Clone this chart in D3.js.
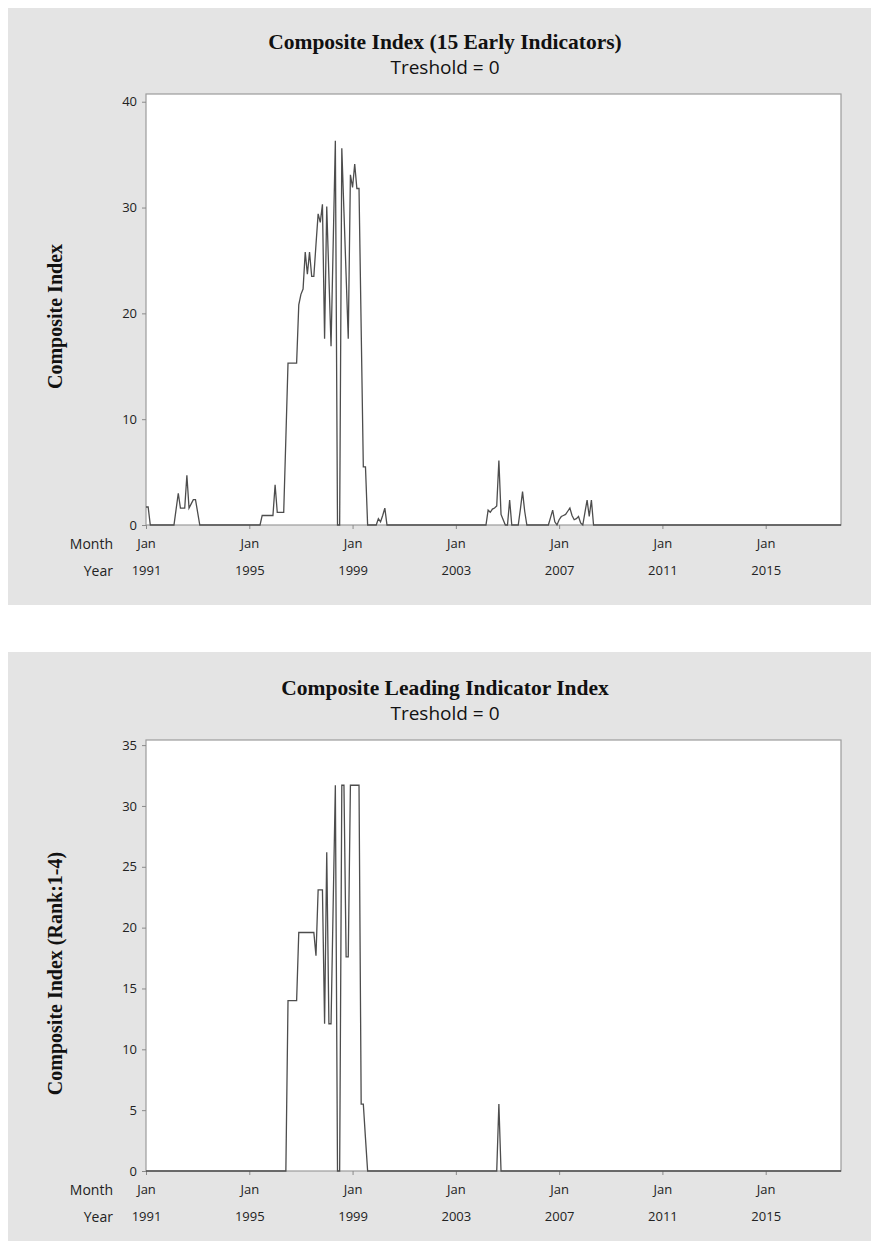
<!DOCTYPE html>
<html>
<head>
<meta charset="utf-8">
<script src="https://cdn.jsdelivr.net/npm/d3@7"></script>
<style>
  html, body { margin: 0; padding: 0; background: #ffffff; }
  svg { display: block; }
  .tick text { font-family: "Open Sans", "Noto Sans", sans-serif; fill: #222; }
</style>
</head>
<body>
<svg id="chart" width="871" height="1244"></svg>
<script>
// Monthly series, Jan 1991 – Dec 2017 (one row per year)
const firstYear = 1991;
const lastYear = 2017;
const yearLabels = [1991, 1995, 1999, 2003, 2007, 2011, 2015];
const monthLabel = "Jan";

// Composite Index (15 Early Indicators)
const earlyIndex = [
  1.7, 1.7, 0, 0, 0, 0, 0, 0, 0, 0, 0, 0,                  // 1991
  0, 0, 1.5, 3.0, 1.6, 1.6, 1.6, 4.7, 1.6, 2.0, 2.4, 2.4,  // 1992
  1.2, 0, 0, 0, 0, 0, 0, 0, 0, 0, 0, 0,                    // 1993
  0, 0, 0, 0, 0, 0, 0, 0, 0, 0, 0, 0,                      // 1994
  0, 0, 0, 0, 0, 0, 0.9, 0.9, 0.9, 0.9, 0.9, 0.9,          // 1995
  3.8, 1.2, 1.2, 1.2, 1.2, 8.2, 15.3, 15.3, 15.3, 15.3, 15.3, 20.8,      // 1996
  21.8, 22.3, 25.8, 23.7, 25.8, 23.5, 23.5, 26.5, 29.4, 28.6, 30.3, 17.6, // 1997
  30.1, 23.5, 16.9, 26.6, 36.3, 0, 0, 35.6, 29.6, 23.6, 17.6, 33.1,       // 1998
  31.9, 34.1, 31.8, 31.8, 18.6, 5.5, 5.5, 0, 0, 0, 0, 0,   // 1999
  0.6, 0.3, 0.9, 1.6, 0, 0, 0, 0, 0, 0, 0, 0,              // 2000
  0, 0, 0, 0, 0, 0, 0, 0, 0, 0, 0, 0,                      // 2001
  0, 0, 0, 0, 0, 0, 0, 0, 0, 0, 0, 0,                      // 2002
  0, 0, 0, 0, 0, 0, 0, 0, 0, 0, 0, 0,                      // 2003
  0, 0, 0, 1.4, 1.2, 1.5, 1.6, 1.8, 6.1, 1.0, 0.5, 0,      // 2004
  0, 2.35, 0, 0, 0, 0, 1.5, 3.15, 1.3, 0, 0, 0,            // 2005
  0, 0, 0, 0, 0, 0, 0, 0, 0.7, 1.4, 0.3, 0,                // 2006
  0.5, 0.8, 0.9, 1.0, 1.3, 1.6, 0.9, 0.5, 0.6, 0.8, 0.2, 0, // 2007
  1.2, 2.35, 0.8, 2.35, 0, 0, 0, 0, 0, 0, 0, 0,            // 2008
  0, 0, 0, 0, 0, 0, 0, 0, 0, 0, 0, 0,                      // 2009
  0, 0, 0, 0, 0, 0, 0, 0, 0, 0, 0, 0,                      // 2010
  0, 0, 0, 0, 0, 0, 0, 0, 0, 0, 0, 0,                      // 2011
  0, 0, 0, 0, 0, 0, 0, 0, 0, 0, 0, 0,                      // 2012
  0, 0, 0, 0, 0, 0, 0, 0, 0, 0, 0, 0,                      // 2013
  0, 0, 0, 0, 0, 0, 0, 0, 0, 0, 0, 0,                      // 2014
  0, 0, 0, 0, 0, 0, 0, 0, 0, 0, 0, 0,                      // 2015
  0, 0, 0, 0, 0, 0, 0, 0, 0, 0, 0, 0,                      // 2016
  0, 0, 0, 0, 0, 0, 0, 0, 0, 0, 0, 0                       // 2017
];

// Composite Leading Indicator Index (Rank: 1-4)
const leadingIndex = [
  0, 0, 0, 0, 0, 0, 0, 0, 0, 0, 0, 0,                      // 1991
  0, 0, 0, 0, 0, 0, 0, 0, 0, 0, 0, 0,                      // 1992
  0, 0, 0, 0, 0, 0, 0, 0, 0, 0, 0, 0,                      // 1993
  0, 0, 0, 0, 0, 0, 0, 0, 0, 0, 0, 0,                      // 1994
  0, 0, 0, 0, 0, 0, 0, 0, 0, 0, 0, 0,                      // 1995
  0, 0, 0, 0, 0, 0, 14.0, 14.0, 14.0, 14.0, 14.0, 19.6,    // 1996
  19.6, 19.6, 19.6, 19.6, 19.6, 19.6, 19.6, 17.7, 23.1, 23.1, 23.1, 12.1, // 1997
  26.2, 12.1, 12.1, 22.0, 31.7, 0, 0, 31.7, 31.7, 17.6, 17.6, 31.7,       // 1998
  31.7, 31.7, 31.7, 31.7, 5.5, 5.5, 2.7, 0, 0, 0, 0, 0,    // 1999
  0, 0, 0, 0, 0, 0, 0, 0, 0, 0, 0, 0,                      // 2000
  0, 0, 0, 0, 0, 0, 0, 0, 0, 0, 0, 0,                      // 2001
  0, 0, 0, 0, 0, 0, 0, 0, 0, 0, 0, 0,                      // 2002
  0, 0, 0, 0, 0, 0, 0, 0, 0, 0, 0, 0,                      // 2003
  0, 0, 0, 0, 0, 0, 0, 0, 5.5, 0, 0, 0,                    // 2004
  0, 0, 0, 0, 0, 0, 0, 0, 0, 0, 0, 0,                      // 2005
  0, 0, 0, 0, 0, 0, 0, 0, 0, 0, 0, 0,                      // 2006
  0, 0, 0, 0, 0, 0, 0, 0, 0, 0, 0, 0,                      // 2007
  0, 0, 0, 0, 0, 0, 0, 0, 0, 0, 0, 0,                      // 2008
  0, 0, 0, 0, 0, 0, 0, 0, 0, 0, 0, 0,                      // 2009
  0, 0, 0, 0, 0, 0, 0, 0, 0, 0, 0, 0,                      // 2010
  0, 0, 0, 0, 0, 0, 0, 0, 0, 0, 0, 0,                      // 2011
  0, 0, 0, 0, 0, 0, 0, 0, 0, 0, 0, 0,                      // 2012
  0, 0, 0, 0, 0, 0, 0, 0, 0, 0, 0, 0,                      // 2013
  0, 0, 0, 0, 0, 0, 0, 0, 0, 0, 0, 0,                      // 2014
  0, 0, 0, 0, 0, 0, 0, 0, 0, 0, 0, 0,                      // 2015
  0, 0, 0, 0, 0, 0, 0, 0, 0, 0, 0, 0,                      // 2016
  0, 0, 0, 0, 0, 0, 0, 0, 0, 0, 0, 0                       // 2017
];

const earlyTicks = [0, 10, 20, 30, 40];
const leadingTicks = [0, 5, 10, 15, 20, 25, 30, 35];

const svg = d3.select("#chart");
const nMonths = (lastYear - firstYear + 1) * 12;

const sansFont = '"Open Sans", "Noto Sans", sans-serif';
const serifFont = '"Liberation Serif", "DejaVu Serif", serif';

function drawPanel(cfg) {
  const dy = cfg.offset;
  const plotLeft = 146, plotRight = 841;
  const plotTop = 94 + dy, plotBottom = 525 + dy;

  // panel background
  svg.append("rect")
    .attr("x", 8).attr("y", cfg.panelTop)
    .attr("width", 871 - 8).attr("height", cfg.panelBottom - cfg.panelTop)
    .attr("fill", "#e4e4e4");

  // plot area
  svg.append("rect")
    .attr("x", plotLeft).attr("y", plotTop)
    .attr("width", plotRight - plotLeft).attr("height", plotBottom - plotTop)
    .attr("fill", "#ffffff")
    .attr("stroke", "#9c9c9c").attr("stroke-width", 1.2);

  const x = d3.scaleLinear().domain([0, nMonths - 1]).range([plotLeft, plotRight]);
  const y = d3.scaleLinear().domain([0, cfg.yMax]).range([plotBottom, plotTop]);

  // y axis
  const yAxis = svg.append("g")
    .attr("transform", `translate(${plotLeft},0)`)
    .call(d3.axisLeft(y).tickValues(cfg.ticks).tickFormat(d3.format("d"))
      .tickSize(4).tickPadding(5));
  yAxis.select(".domain").remove();
  yAxis.selectAll(".tick line").attr("stroke", "#8a8a8a");
  yAxis.selectAll(".tick text").attr("font-size", 13);

  // x axis: month row
  const tickIdx = yearLabels.map(yr => (yr - firstYear) * 12);
  const xAxis = svg.append("g")
    .attr("transform", `translate(0,${plotBottom})`)
    .call(d3.axisBottom(x).tickValues(tickIdx).tickFormat(() => monthLabel)
      .tickSize(4).tickPadding(10));
  xAxis.select(".domain").remove();
  xAxis.selectAll(".tick line").attr("stroke", "#8a8a8a");
  xAxis.selectAll(".tick text").attr("font-size", 13);

  // x axis: year row
  const yearAxis = svg.append("g")
    .attr("transform", `translate(0,${plotBottom})`)
    .call(d3.axisBottom(x).tickValues(tickIdx)
      .tickFormat((d, i) => String(yearLabels[i]))
      .tickSize(0).tickPadding(41));
  yearAxis.select(".domain").remove();
  yearAxis.selectAll(".tick text").attr("font-size", 13);

  // row headers
  svg.append("text").attr("x", 113).attr("y", plotBottom + 23.5)
    .attr("text-anchor", "end").attr("font-family", sansFont)
    .attr("font-size", 14).attr("fill", "#222").text("Month");
  svg.append("text").attr("x", 113).attr("y", plotBottom + 50.5)
    .attr("text-anchor", "end").attr("font-family", sansFont)
    .attr("font-size", 14).attr("fill", "#222").text("Year");

  // series line
  const line = d3.line().x((d, i) => x(i)).y(d => y(d));
  svg.append("path")
    .datum(cfg.values)
    .attr("fill", "none")
    .attr("stroke", "#4d4d4d")
    .attr("stroke-width", 1.3)
    .attr("stroke-linejoin", "miter")
    .attr("d", line);

  // titles
  svg.append("text").attr("x", 445).attr("y", 48.5 + dy)
    .attr("text-anchor", "middle").attr("font-family", serifFont)
    .attr("font-weight", "bold").attr("font-size", 21.5).attr("fill", "#111")
    .text(cfg.title);
  svg.append("text").attr("x", 445).attr("y", 73.5 + dy)
    .attr("text-anchor", "middle").attr("font-family", sansFont)
    .attr("font-size", 19).attr("fill", "#111")
    .text(cfg.subtitle);

  // y-axis title
  svg.append("text")
    .attr("transform", `translate(62,${(plotTop + plotBottom) / 2 + cfg.yTitleShift}) rotate(-90)`)
    .attr("text-anchor", "middle").attr("font-family", serifFont)
    .attr("font-weight", "bold").attr("font-size", 20).attr("fill", "#111")
    .text(cfg.yTitle);
}

drawPanel({
  offset: 0, panelTop: 8, panelBottom: 605,
  title: "Composite Index (15 Early Indicators)",
  subtitle: "Treshold = 0",
  yTitle: "Composite Index", yTitleShift: 7,
  values: earlyIndex, ticks: earlyTicks, yMax: 40.73
});

drawPanel({
  offset: 646, panelTop: 652, panelBottom: 1241,
  title: "Composite Leading Indicator Index",
  subtitle: "Treshold = 0",
  yTitle: "Composite Index (Rank:1-4)", yTitleShift: 18,
  values: leadingIndex, ticks: leadingTicks, yMax: 35.42
});
</script>
</body>
</html>
